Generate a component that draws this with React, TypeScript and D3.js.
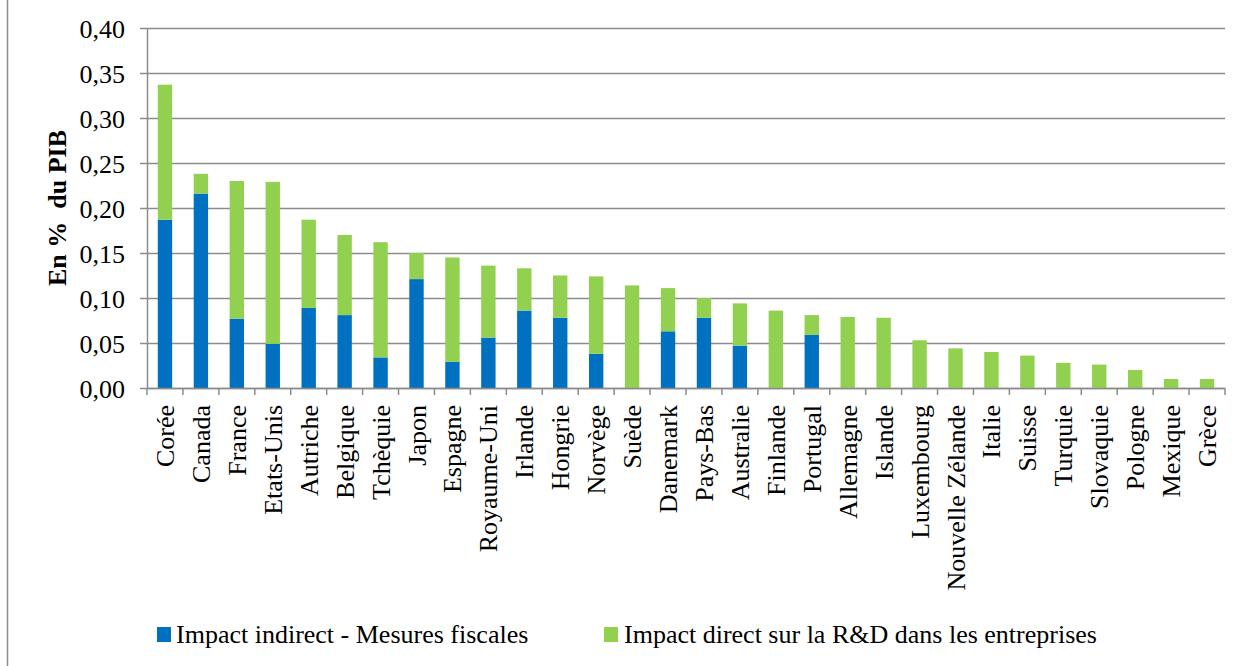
import React from 'react';
import * as d3 from 'd3';

// values (share of GDP, %)
const countries = [
  'Corée', 'Canada', 'France', 'Etats-Unis', 'Autriche', 'Belgique', 'Tchèquie', 'Japon',
  'Espagne', 'Royaume-Uni', 'Irlande', 'Hongrie', 'Norvège', 'Suède', 'Danemark', 'Pays-Bas',
  'Australie', 'Finlande', 'Portugal', 'Allemagne', 'Islande', 'Luxembourg', 'Nouvelle Zélande',
  'Italie', 'Suisse', 'Turquie', 'Slovaquie', 'Pologne', 'Mexique', 'Grèce',
];
const indirect = [
  0.187, 0.216, 0.077, 0.049, 0.089, 0.081, 0.034, 0.121, 0.029, 0.056, 0.086, 0.078, 0.038, 0,
  0.063, 0.078, 0.047, 0, 0.059, 0, 0, 0, 0, 0, 0, 0, 0, 0, 0, 0,
];
const direct = [
  0.150, 0.022, 0.153, 0.180, 0.098, 0.089, 0.128, 0.029, 0.116, 0.080, 0.047, 0.047, 0.086, 0.114,
  0.048, 0.022, 0.047, 0.086, 0.022, 0.079, 0.078, 0.053, 0.044, 0.040, 0.036, 0.028, 0.026, 0.020,
  0.010, 0.010,
];
const yTicks = [0, 0.05, 0.1, 0.15, 0.2, 0.25, 0.3, 0.35, 0.4];
const seriesKeys = ['indirect', 'direct'];
const seriesNames = ['Impact indirect - Mesures fiscales', 'Impact direct sur la R&D dans les entreprises'];
const seriesColors = ['#0070C0', '#92D050'];
const yTitle = 'En %  du PIB';

const W = 1242;
const H = 666;
const margin = { top: 28, right: 17, bottom: 278, left: 147 };
const font = '"Liberation Serif", "Times New Roman", serif';
const gridColor = '#8c8c8c';

export default function App() {
  const innerH = H - margin.top - margin.bottom;

  const x = d3.scaleBand<string>()
    .domain(countries)
    .range([margin.left, W - margin.right])
    .paddingInner(0.6)
    .paddingOuter(0.3);

  const y = d3.scaleLinear().domain([0, 0.4]).range([margin.top + innerH, margin.top]);

  const rows = countries.map((c, i) => ({ country: c, indirect: indirect[i], direct: direct[i] }));
  const stacked = d3.stack<any>().keys(seriesKeys)(rows);

  const fmt = (v: number) => d3.format('.2f')(v).replace('.', ',');
  const step = x.step();
  const boundaries = d3.range(countries.length + 1).map(i => margin.left + i * step);

  return (
    <svg width={W} height={H} style={{ position: 'absolute', left: 0, top: 0, background: '#fff' }}
      fontFamily={font}>
      <rect x={0} y={0} width={W} height={H} fill="#fff" />
      {/* chart frame */}
      <line x1={7.5} x2={7.5} y1={0} y2={H} stroke="#8c8c8c" strokeWidth={1.5} />

      {/* gridlines + y ticks */}
      {yTicks.map(t => (
        <g key={t}>
          <line x1={margin.left - 7} x2={W - margin.right} y1={Math.round(y(t)) + 0.5} y2={Math.round(y(t)) + 0.5}
            stroke={gridColor} strokeWidth={1.5} />
          <text x={125} y={y(t) + 9.5} textAnchor="end" fontSize={26} fill="#000">{fmt(t)}</text>
        </g>
      ))}

      {/* bars */}
      {stacked.map((s, si) => (
        <g key={s.key} fill={seriesColors[si]}>
          {s.map((d, i) => (d[1] - d[0] > 0 ? (
            <rect key={i} x={x(countries[i])} width={x.bandwidth()}
              y={y(d[1])} height={y(d[0]) - y(d[1])} />
          ) : null))}
        </g>
      ))}

      {/* axes */}
      <line x1={margin.left + 0.5} x2={margin.left + 0.5} y1={margin.top} y2={y(0)} stroke={gridColor} strokeWidth={1.5} />
      <line x1={margin.left} x2={W - margin.right} y1={y(0) + 0.5} y2={y(0) + 0.5} stroke={gridColor} strokeWidth={1.5} />
      {boundaries.map((bx, i) => (
        <line key={i} x1={bx} x2={bx} y1={y(0)} y2={y(0) + 7} stroke={gridColor} strokeWidth={1.5} />
      ))}

      {/* x labels */}
      {countries.map(c => {
        const cx = (x(c) as number) + x.bandwidth() / 2;
        return (
          <text key={c} transform={`translate(${cx + 9},405) rotate(-90)`} textAnchor="end"
            fontSize={26} fill="#000">{c}</text>
        );
      })}

      {/* y title */}
      <text transform={`translate(66,208) rotate(-90)`} textAnchor="middle" fontSize={26}
        fontWeight="bold" fill="#000" style={{ whiteSpace: 'pre' }}>{yTitle}</text>

      {/* legend */}
      <g>
        <rect x={157} y={627} width={14} height={15} fill={seriesColors[0]} />
        <text x={176} y={643} fontSize={26} fill="#000">{seriesNames[0]}</text>
        <rect x={604} y={627} width={14} height={15} fill={seriesColors[1]} />
        <text x={624} y={643} fontSize={26} fill="#000">{seriesNames[1]}</text>
      </g>
    </svg>
  );
}
